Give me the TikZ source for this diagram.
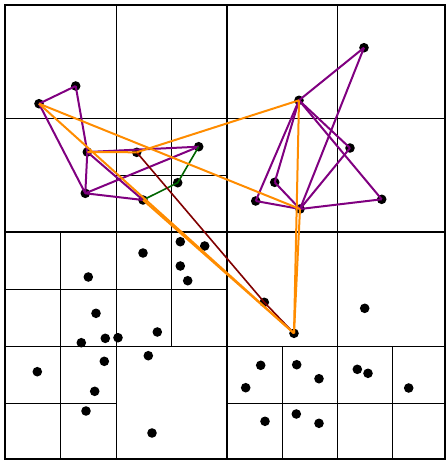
\documentclass[tikz,border=0pt]{standalone}
\definecolor{cpurple}{RGB}{128,0,128}
\definecolor{corange}{RGB}{255,140,0}
\definecolor{cmaroon}{RGB}{128,0,0}
\definecolor{cgreen}{RGB}{0,100,0}
\tikzset{
  dot/.style={circle, fill=black, inner sep=0pt, minimum size=9.6pt},
  gridthick/.style={line width=2pt, black},
  gridthin/.style={line width=1pt, black},
  pedge/.style={draw=cpurple, line width=2pt},
  oedge/.style={draw=corange, line width=2pt},
  redge/.style={draw=cmaroon, line width=1.6pt},
  gedge/.style={draw=cgreen, line width=1.6pt}
}
\begin{document}
\begin{tikzpicture}[x=1pt,y=-1pt]
\useasboundingbox (0,0) rectangle (446,461);
% quadtree grid
\draw[gridthin] (116,5) -- (116,459);
\draw[gridthin] (337.5,5) -- (337.5,459);
\draw[gridthin] (4.5,118.5) -- (445,118.5);
\draw[gridthin] (4.5,346) -- (445,346);
\draw[gridthin] (171,118.5) -- (171,346);
\draw[gridthin] (116,175) -- (227,175);
\draw[gridthin] (60,232) -- (60,459);
\draw[gridthin] (4.5,289) -- (227,289);
\draw[gridthin] (4.5,403) -- (116,403);
\draw[gridthin] (227,403) -- (445,403);
\draw[gridthin] (282,346) -- (282,459);
\draw[gridthin] (392.5,346) -- (392.5,459);
\draw[gridthick] (227,5) -- (227,459);
\draw[gridthick] (4.5,232) -- (445,232);
\draw[gridthick] (4.5,5) rectangle (445,459);
% points
\node[dot] (A) at (39,103.7) {};
\node[dot] (B) at (75.7,86) {};
\node[dot] (C) at (87.3,152) {};
\node[dot] (D) at (136.7,152.3) {};
\node[dot] (E) at (198.7,146.7) {};
\node[dot] (F) at (177.7,182.7) {};
\node[dot] (G) at (85.3,193.3) {};
\node[dot] (H) at (143,200) {};
\node[dot] (I) at (364,47.7) {};
\node[dot] (J) at (299,100.3) {};
\node[dot] (K) at (350,148) {};
\node[dot] (L) at (274.7,182.3) {};
\node[dot] (M) at (255.7,201) {};
\node[dot] (N) at (300,209) {};
\node[dot] (O) at (381.7,199.3) {};
\node[dot] (P) at (264.3,302.3) {};
\node[dot] (Q) at (294,333.3) {};
\foreach \n/\x/\y in {s1/180.3/241.7, s2/204.7/246, s3/143/253, s4/180.3/266,
  s5/187.7/280.7, s6/88.3/277, s7/96/313.3, s8/157.3/332, s9/105.3/338.3,
  s10/118/337.7, s11/81.3/342.7, s12/148.3/355.7, s13/104.3/361.3,
  s14/37.3/371.7, s15/94.7/391.3, s16/86/411, s17/152/433,
  r1/364.7/308.3, r2/260.7/365.3, r3/296.7/364.7, r4/319/378.7,
  r5/245.7/387.7, r6/357.3/369.3, r7/368/373.3, r8/408.7/388,
  r9/265/421.3, r10/296.3/414, r11/319/423.3}
  \node[dot] (\n) at (\x,\y) {};
% purple edges, left cluster
\foreach \a/\b in {A/B, B/C, A/G, C/G, C/E, C/H, G/E, G/H}
  \draw[pedge] (\a.center) -- (\b.center);
% purple edges, right cluster
\foreach \a/\b in {I/J, I/N, J/M, J/L, J/K, J/O, K/N, L/N, M/N, N/O}
  \draw[pedge] (\a.center) -- (\b.center);
% green edges
\draw[gedge] (H.center) -- (F.center) -- (E.center);
% dark red edges
\draw[redge] (D.center) -- (P.center) -- (Q.center);
% orange edges
\foreach \a/\b in {A/N, A/Q, H/Q, C/D, D/J, J/Q, N/Q}
  \draw[oedge] (\a.center) -- (\b.center);
\end{tikzpicture}
\end{document}
